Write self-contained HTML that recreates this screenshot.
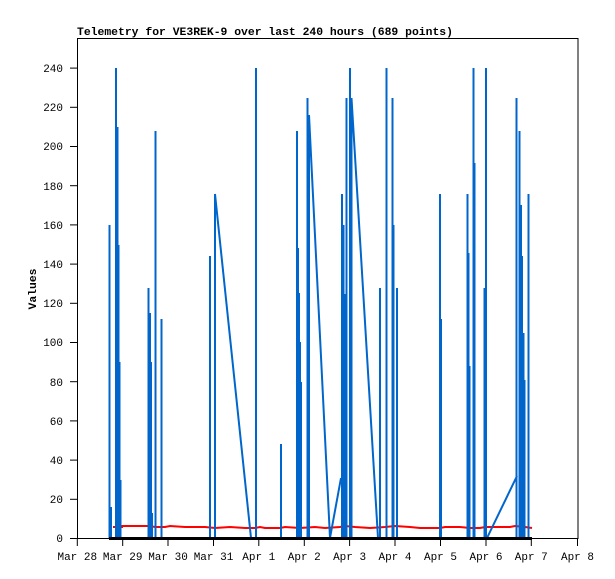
<!DOCTYPE html>
<html><head><meta charset="utf-8"><style>html,body{margin:0;padding:0;background:#fff}svg{display:block}text{font-family:"Liberation Mono","DejaVu Sans Mono",monospace}</style></head><body>
<svg width="615" height="579" viewBox="0 0 615 579" xmlns="http://www.w3.org/2000/svg">
<rect width="615" height="579" fill="#fff"/>
<text x="77" y="35" font-size="11.4" font-weight="bold">Telemetry for VE3REK-9 over last 240 hours (689 points)</text>
<rect x="77.5" y="38.5" width="500.5" height="500" fill="none" stroke="#000" stroke-width="1"/>
<text transform="translate(36,289) rotate(-90)" font-size="11.4" font-weight="bold" text-anchor="middle">Values</text>
<g stroke="#000" stroke-width="1">
<line x1="70" y1="538.5" x2="77" y2="538.5"/><line x1="70" y1="499.3" x2="77" y2="499.3"/><line x1="70" y1="460.1" x2="77" y2="460.1"/><line x1="70" y1="420.9" x2="77" y2="420.9"/><line x1="70" y1="381.7" x2="77" y2="381.7"/><line x1="70" y1="342.5" x2="77" y2="342.5"/><line x1="70" y1="303.3" x2="77" y2="303.3"/><line x1="70" y1="264.1" x2="77" y2="264.1"/><line x1="70" y1="224.9" x2="77" y2="224.9"/><line x1="70" y1="185.7" x2="77" y2="185.7"/><line x1="70" y1="146.5" x2="77" y2="146.5"/><line x1="70" y1="107.3" x2="77" y2="107.3"/><line x1="70" y1="68.1" x2="77" y2="68.1"/>
<line x1="77.3" y1="538" x2="77.3" y2="546"/><line x1="122.7" y1="538" x2="122.7" y2="546"/><line x1="168" y1="538" x2="168" y2="546"/><line x1="213.5" y1="538" x2="213.5" y2="546"/><line x1="258.8" y1="538" x2="258.8" y2="546"/><line x1="304.3" y1="538" x2="304.3" y2="546"/><line x1="349.6" y1="538" x2="349.6" y2="546"/><line x1="395" y1="538" x2="395" y2="546"/><line x1="440.5" y1="538" x2="440.5" y2="546"/><line x1="486" y1="538" x2="486" y2="546"/><line x1="531.3" y1="538" x2="531.3" y2="546"/><line x1="577.5" y1="538" x2="577.5" y2="546"/>
</g>
<g font-size="11" text-anchor="end">
<text x="63" y="542">0</text><text x="63" y="503">20</text><text x="63" y="464">40</text><text x="63" y="425">60</text><text x="63" y="386">80</text><text x="63" y="346">100</text><text x="63" y="307">120</text><text x="63" y="268">140</text><text x="63" y="229">160</text><text x="63" y="190">180</text><text x="63" y="150">200</text><text x="63" y="111">220</text><text x="63" y="72">240</text>
</g>
<g font-size="11" text-anchor="middle">
<text x="77.3" y="560">Mar 28</text><text x="122.7" y="560">Mar 29</text><text x="168" y="560">Mar 30</text><text x="213.5" y="560">Mar 31</text><text x="258.8" y="560">Apr 1</text><text x="304.3" y="560">Apr 2</text><text x="349.6" y="560">Apr 3</text><text x="395" y="560">Apr 4</text><text x="440.5" y="560">Apr 5</text><text x="486" y="560">Apr 6</text><text x="531.3" y="560">Apr 7</text><text x="577.5" y="560">Apr 8</text>
</g>
<polyline fill="none" stroke="#f00" stroke-width="2" points="113,527 122,527 122,526 150,526 155,527 165,527 170,526 185,527 205,527 215,528 230,527 245,528 255,528 260,527 265,528 280,528 285,527 300,528 315,527 325,528 340,527 345,526 355,527 370,528 385,527 395,526 410,527 420,528 440,528 445,527 460,527 470,528 480,528 485,527 495,527 510,527 515,526 525,527 532,528"/>
<g stroke="#0066cc" stroke-width="2" fill="none">
<path d="M109.5 538V225M111 538V507M116 538V68M117.5 538V127M118.5 538V245M119.5 538V362M120.5 538V480
M148.5 538V288M150 538V313M151 538V362M152 538V513M155.5 538V131M161.5 538V319
M210 538V256M215 538V194L251 538M256 538V68M281 538V444
M297 538V131M298 538V248M299 538V293M300 538V342M301 538V382
M307.5 538V98M309 538V115L330 538L341 478M342 538V194M343.5 538V225M345 538V294M346.5 538V98M350 538V68M351.5 538V98L378 538M380 538V288
M386.5 538V68M392.5 538V98M393.5 538V225M397 538V288
M440 538V194M441 538V319M467.5 538V194M468.5 538V253M469.5 538V366M473.5 538V68M474.5 538V163
M484.5 538V288M486 538V68M487 538L517 476M516.5 538V98M519.5 538V131M521 538V205M522 538V256M523.5 538V333M524.5 538V380M528.5 538V194"/>
</g>
<line x1="109" y1="538.5" x2="532" y2="538.5" stroke="#000" stroke-width="3"/>
</svg>
</body></html>
